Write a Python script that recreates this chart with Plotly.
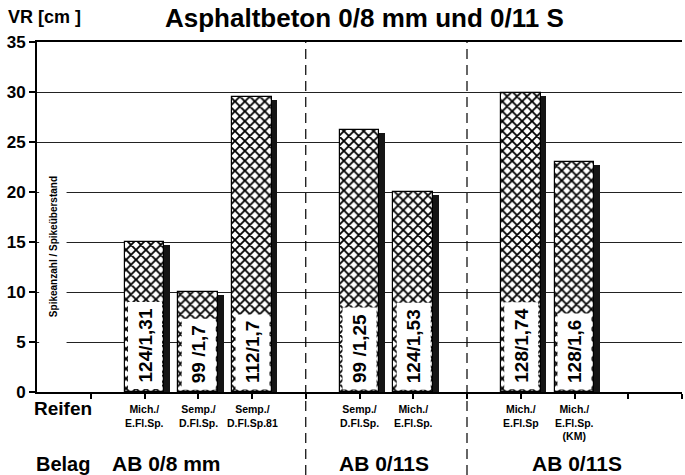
import plotly.graph_objects as go

# ---- data ----
positions = [2, 3, 4, 6, 7, 9, 10]
values = [15.0, 10.0, 29.5, 26.2, 20.0, 29.9, 23.0]
bar_labels = ["124/1,31", "99 /1,7", "112/1,7", "99 /1,25", "124/1,53", "128/1,74", "128/1,6"]
tire_labels = ["Mich./<br>E.Fl.Sp.", "Semp./<br>D.Fl.Sp.", "Semp./<br>D.Fl.Sp.81",
               "Semp./<br>D.Fl.Sp.", "Mich./<br>E.Fl.Sp.", "Mich./<br>E.Fl.Sp",
               "Mich./<br>E.Fl.Sp.<br>(KM)"]
group_labels = ["AB 0/8 mm", "AB 0/11S", "AB 0/11S"]
group_centers = [2.4, 6.45, 10.05]
separators = [5, 8]
y_ticks = [0, 5, 10, 15, 20, 25, 30, 35]

FONT = "Liberation Sans, Arial, sans-serif"
W, H = 685, 475
ML, MR, MT, MB = 37, 3, 42, 83
plot_h = H - MT - MB
BAR_W = 0.74


def py(pix):
    """pixel y (from top) -> paper y"""
    return (H - MB - pix) / plot_h


def px(pix):
    return (pix - ML) / (W - ML - MR)


fig = go.Figure()

# shadow bars
fig.add_trace(go.Bar(
    x=[p + 0.1 for p in positions], y=[v - 0.25 for v in values], width=BAR_W,
    marker=dict(color="#151515", line=dict(width=0)), hoverinfo="skip", showlegend=False))

# main hatched bars
fig.add_trace(go.Bar(
    x=positions, y=values, width=BAR_W,
    marker=dict(color="white", line=dict(color="black", width=1.2),
                pattern=dict(shape="x", fgcolor="black", bgcolor="white",
                             size=7, solidity=0.45, fillmode="replace")),
    showlegend=False))

annotations = []
for p, lab in zip(positions, bar_labels):
    annotations.append(dict(x=p, y=0, xref="x", yref="y", text=lab, textangle=-90,
                            showarrow=False, yanchor="bottom", xanchor="center", yshift=2,
                            bgcolor="white", borderpad=6,
                            font=dict(family=FONT, size=19, color="black", weight="bold")))

for p, lab in zip(positions, tire_labels):
    annotations.append(dict(x=p, y=py(401), xref="x", yref="paper", text=lab,
                            showarrow=False, yanchor="top", xanchor="center", align="center",
                            font=dict(family=FONT, size=10.5, color="black", weight="bold")))

for c, lab in zip(group_centers, group_labels):
    annotations.append(dict(x=c, y=py(463), xref="x", yref="paper", text=lab,
                            showarrow=False, yanchor="middle", xanchor="center",
                            font=dict(family=FONT, size=21, color="black", weight="bold")))

annotations += [
    dict(x=0.48, y=py(409), xref="x", yref="paper", text="Reifen", showarrow=False,
         xanchor="center", yanchor="middle",
         font=dict(family=FONT, size=19, color="black", weight="bold")),
    dict(x=0.48, y=py(464), xref="x", yref="paper", text="Belag", showarrow=False,
         xanchor="center", yanchor="middle",
         font=dict(family=FONT, size=20, color="black", weight="bold")),
    dict(x=px(364), y=py(18), xref="paper", yref="paper", text="Asphaltbeton 0/8 mm und 0/11 S",
         showarrow=False, xanchor="center", yanchor="middle",
         font=dict(family=FONT, size=26, color="black", weight="bold")),
    dict(x=px(6), y=py(17), xref="paper", yref="paper", text="VR [cm ]",
         showarrow=False, xanchor="left", yanchor="middle",
         font=dict(family=FONT, size=18, color="black", weight="bold")),
    dict(x=0.3, y=14.5, xref="x", yref="y", text="Spikeanzahl / Spikeüberstand",
         textangle=-90, showarrow=False, xanchor="center", yanchor="middle",
         font=dict(family=FONT, size=10, color="black", weight="bold")),
]

shapes = [dict(type="rect", xref="x", yref="y", x0=0.04, x1=0.55, y0=3.8, y1=24,
               fillcolor="white", line=dict(width=0), layer="above")]
for s in separators:
    shapes.append(dict(type="line", xref="x", yref="paper", x0=s, x1=s, y0=py(H), y1=1,
                       line=dict(color="black", width=1.2, dash="10px,6px")))

fig.update_layout(
    width=W, height=H, margin=dict(l=ML, r=MR, t=MT, b=MB),
    paper_bgcolor="white", plot_bgcolor="white",
    barmode="overlay", bargap=0,
    annotations=annotations, shapes=shapes,
    font=dict(family=FONT, color="black"),
)
fig.update_xaxes(range=[0, 12], tickvals=list(range(1, 13)), showticklabels=False,
                 ticks="outside", ticklen=5, tickwidth=1.5, tickcolor="black",
                 showline=True, linecolor="black", linewidth=2, mirror=True,
                 showgrid=False, zeroline=False, fixedrange=True)
fig.update_yaxes(range=[0, 35], tickvals=y_ticks, ticks="outside", ticklen=6, tickwidth=1.5,
                 tickcolor="black", showline=True, linecolor="black", linewidth=2,
                 showgrid=True, gridcolor="#222", gridwidth=1.2, zeroline=False,
                 tickfont=dict(family=FONT, size=17, color="black", weight="bold"),
                 automargin=False, fixedrange=True)

fig.write_html("out.html", config={"displayModeBar": False},
               post_script="document.body.style.margin='0';document.body.style.padding='0';")
